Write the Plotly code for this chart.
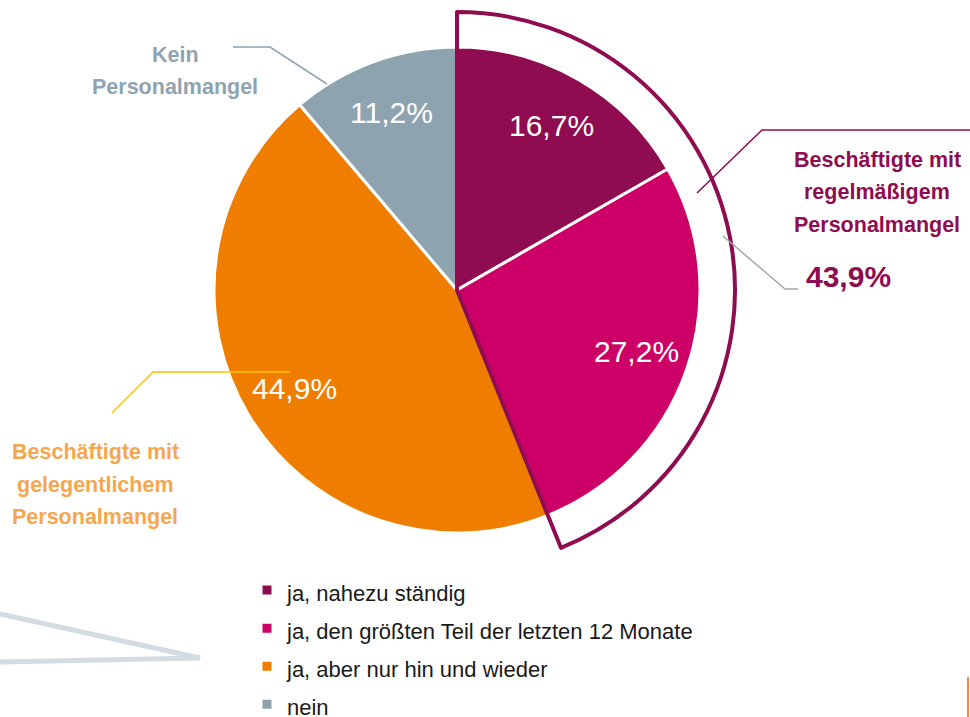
import math
import plotly.graph_objects as go

# ---- data ----
categories = ["ja, nahezu ständig",
              "ja, den größten Teil der letzten 12 Monate",
              "ja, aber nur hin und wieder",
              "nein"]
shares = [16.7, 27.2, 44.9, 11.2]
slice_colors = ["#8E0C4F", "#CC0066", "#EF7D00", "#8DA3B0"]

# ---- layout constants (pixels) ----
W, H = 970, 717
CX, CY, R = 457, 290, 243       # pie centre and radius
R_OUT = 278                      # outline wedge radius
FONT = "Liberation Sans, Arial, sans-serif"
MAROON = "#8E0C4F"

def px(x):
    return x / W

def py(y):
    return 1 - y / H

def dom(r):
    return dict(x=[px(CX - r), px(CX + r)], y=[py(CY + r), py(CY - r)])

fig = go.Figure()

fig.add_trace(go.Pie(
    labels=[f'<span style="font-size:22px">{c}</span>' for c in categories],
    values=shares,
    marker=dict(colors=slice_colors, line=dict(color="white", width=3)),
    sort=False, direction="clockwise", rotation=0,
    textinfo="none", hoverinfo="label+percent",
    domain=dom(R),
))

# outline wedge around the "regular shortage" slices
regular = shares[0] + shares[1]
fig.add_trace(go.Pie(
    labels=["regelmäßig", "rest"],
    values=[regular, 100 - regular],
    marker=dict(colors=["rgba(0,0,0,0)", "rgba(0,0,0,0)"],
                line=dict(color=[MAROON, "rgba(0,0,0,0)"], width=[4, 0])),
    sort=False, direction="clockwise", rotation=0,
    textinfo="none", hoverinfo="skip", showlegend=False,
    domain=dom(R_OUT),
))

annotations = []
# percent labels placed on slice mid-angles
cum = 0.0
for v in shares:
    mid = (cum + v / 2) / 100 * 2 * math.pi
    cum += v
    x = CX + 0.78 * R * math.sin(mid)
    y = CY - 0.78 * R * math.cos(mid)
    annotations.append(dict(
        x=px(x), y=py(y), xref="paper", yref="paper",
        text=f"{v:.1f}".replace(".", ",") + "%", showarrow=False,
        font=dict(family=FONT, size=30, color="white"),
        xanchor="center", yanchor="middle"))

def block(lines, cx, cy_first, color, size=21.5, gap=32.5):
    out = []
    for i, t in enumerate(lines):
        out.append(dict(x=px(cx), y=py(cy_first + i * gap), xref="paper", yref="paper",
                        text=f"<b>{t}</b>", showarrow=False,
                        xanchor="center", yanchor="middle",
                        font=dict(family=FONT, size=size, color=color)))
    return out

annotations += block(["Kein", "Personalmangel"], 175, 55, "#8FA3B0")
annotations += block(["Beschäftigte mit", "regelmäßigem", "Personalmangel"], 877, 160, MAROON)
annotations += block(["Beschäftigte mit", "gelegentlichem", "Personalmangel"], 95, 452, "#F6A64E")
annotations.append(dict(x=px(848), y=py(277), xref="paper", yref="paper", showarrow=False,
                        text="<b>" + f"{regular:.1f}".replace(".", ",") + "%</b>",
                        xanchor="center", yanchor="middle",
                        font=dict(family=FONT, size=30, color=MAROON)))

fig.update_layout(annotations=annotations)

def seg(pts, color, width):
    path = "M " + " L ".join(f"{px(x)},{py(y)}" for x, y in pts)
    return dict(type="path", path=path, xref="paper", yref="paper",
                line=dict(color=color, width=width), layer="above")

shapes = [
    seg([(233, 47), (270, 47), (327, 84)], "#8FA3B0", 1.5),
    seg([(697, 193), (762, 130), (970, 130)], MAROON, 1.5),
    seg([(723, 236), (785, 289), (798, 289)], "#A6A6A6", 1.5),
    seg([(112, 413), (153, 372), (290, 372)], "#FFC000", 1.5),
    seg([(0, 614), (200, 658), (0, 662)], "#D3DCE1", 5),
    seg([(968, 677), (968, 717)], "#F08A3C", 2),
]
fig.update_layout(shapes=shapes)

fig.update_layout(
    width=W, height=H, margin=dict(l=0, r=0, t=0, b=0, autoexpand=False),
    paper_bgcolor="white", plot_bgcolor="white",
    separators=", ",
    showlegend=True,
    legend=dict(x=px(247), y=py(566), xanchor="left", yanchor="top",
                font=dict(family=FONT, size=27, color="#1A1A1A"),
                bgcolor="rgba(0,0,0,0)", borderwidth=0, traceorder="normal"),
)

fig.write_html("out.html", config={"displayModeBar": False},
               post_script="document.body.style.margin='0';document.body.style.overflow='hidden';")
